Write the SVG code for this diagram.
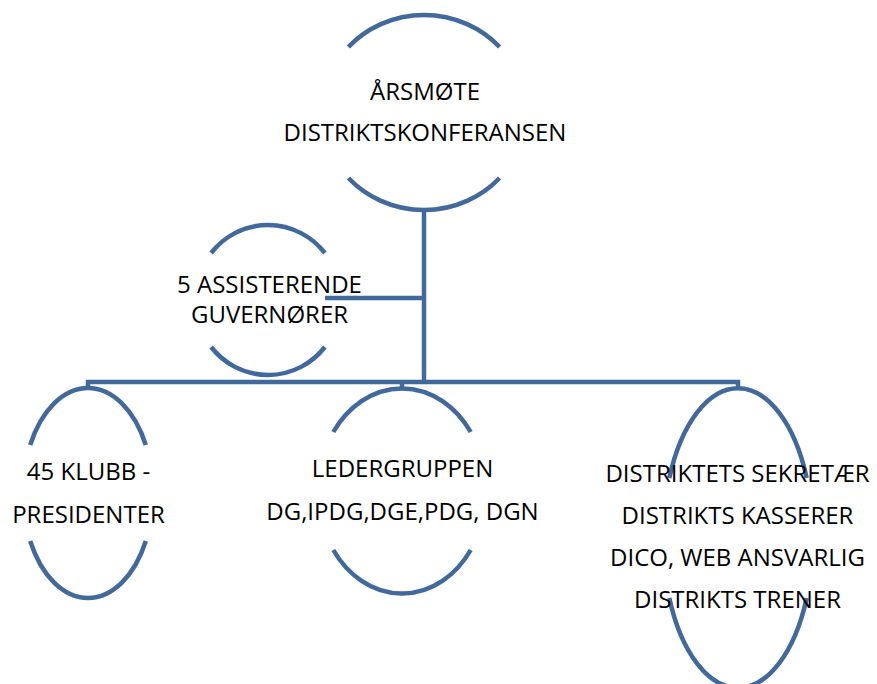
<svg xmlns="http://www.w3.org/2000/svg" width="877" height="684" viewBox="0 0 877 684">
<style>
.arc{fill:none;stroke:#41699B;stroke-width:4.5}
.con{fill:none;stroke:#41699B;stroke-width:4.5}
.t{font-family:"Open Sans","Liberation Sans",sans-serif;font-size:24px;fill:#000;text-anchor:middle}
</style>
<rect width="877" height="684" fill="#fff"/>
<g id="connectors">
<path class="con" d="M424,210 V382"/>
<path class="con" d="M325,298 H424"/>
<path class="con" d="M86,382 H740"/>
<path class="con" d="M88,380 V390"/>
<path class="con" d="M402,380 V390"/>
<path class="con" d="M738,380 V390"/>
</g>
<g id="node-arsmote">
<path class="arc" d="M348.4,47 A102,97.5 0 0 1 499.6,47"/>
<path class="arc" d="M348.4,178 A102,97.5 0 0 0 499.6,178"/>
<text class="t" x="425" y="100">ÅRSMØTE</text>
<text class="t" x="425" y="141">DISTRIKTSKONFERANSEN</text>
</g>
<g id="node-assisterende">
<path class="arc" d="M211.1,253 A73,75 0 0 1 324.9,253"/>
<path class="arc" d="M211.1,347 A73,75 0 0 0 324.9,347"/>
<text class="t" x="269.5" y="293">5 ASSISTERENDE</text>
<text class="t" x="269.5" y="323">GUVERNØRER</text>
</g>
<g id="node-klubb">
<path class="arc" d="M30.2,445 A65,105 0 0 1 145.8,445"/>
<path class="arc" d="M30.2,541 A65,105 0 0 0 145.8,541"/>
<text class="t" x="88.5" y="480">45 KLUBB -</text>
<text class="t" x="88.5" y="523">PRESIDENTER</text>
</g>
<g id="node-ledergruppen">
<path class="arc" d="M333.3,432 A84,102.5 0 0 1 470.7,432"/>
<path class="arc" d="M333.3,550 A84,102.5 0 0 0 470.7,550"/>
<text class="t" x="402.5" y="477">LEDERGRUPPEN</text>
<text class="t" x="402.5" y="520">DG,IPDG,DGE,PDG, DGN</text>
</g>
<g id="node-distrikt">
<path class="arc" d="M669.3,478 A75,150 0 0 1 806.7,478"/>
<path class="arc" d="M669.3,598 A75,150 0 0 0 806.7,598"/>
<text class="t" x="737.5" y="482">DISTRIKTETS SEKRETÆR</text>
<text class="t" x="737.5" y="524">DISTRIKTS KASSERER</text>
<text class="t" x="737.5" y="566">DICO, WEB ANSVARLIG</text>
<text class="t" x="737.5" y="608">DISTRIKTS TRENER</text>
</g>
</svg>
